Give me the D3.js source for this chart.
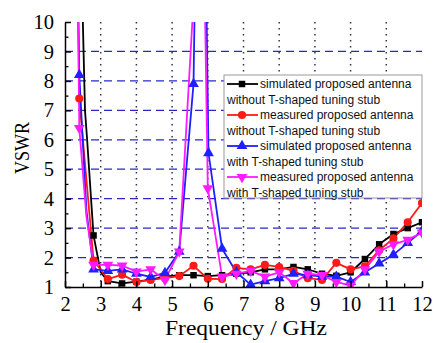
<!DOCTYPE html>
<html>
<head>
<meta charset="utf-8">
<script src="https://cdn.jsdelivr.net/npm/d3@7/dist/d3.min.js"></script>
<style>
  body { margin: 0; background: #fff; }
  #chart text { font-family: "Liberation Serif"; }
  #chart .legend text { font-family: "Liberation Sans"; }
</style>
</head>
<body>
<div id="chart"></div>
<script>
// Datos (frecuencia en GHz, VSWR)
const freqSimNo = [2.45, 2.5, 2.56, 2.62, 2.76, 2.8, 3.0, 3.2, 3.6, 4.0, 4.4, 4.8, 5.2, 5.6, 6.0, 6.4, 6.8, 7.2, 7.6, 8.0, 8.4, 8.8, 9.2, 9.6, 10.0, 10.4, 10.8, 11.2, 11.6, 12.0];
const vswrSimNo = [14, 10, 7, 6, 3.45, 2.75, 1.5, 1.2, 1.12, 1.18, 1.25, 1.35, 1.4, 1.4, 1.37, 1.4, 1.45, 1.5, 1.6, 1.6, 1.68, 1.6, 1.45, 1.38, 1.5, 1.95, 2.45, 2.8, 3.0, 3.2];

const freqMeasNo = [2.35, 2.4, 2.8, 3.2, 3.6, 4.0, 4.4, 4.8, 5.2, 5.6, 6.0, 6.4, 6.8, 7.2, 7.6, 8.0, 8.4, 8.8, 9.2, 9.6, 10.0, 10.4, 10.8, 11.2, 11.6, 12.0];
const vswrMeasNo = [12, 7.4, 1.9, 1.27, 1.42, 1.17, 1.24, 1.3, 1.37, 1.72, 1.28, 1.27, 1.65, 1.6, 1.75, 1.68, 1.55, 1.3, 1.24, 1.82, 1.6, 1.7, 2.25, 2.65, 3.2, 3.85];

const freqSimT = [2.35, 2.4, 2.6, 2.8, 3.2, 3.6, 4.0, 4.4, 4.8, 5.2, 5.6, 5.7, 5.9, 6.02, 6.4, 6.8, 7.2, 7.6, 8.0, 8.4, 8.8, 9.2, 9.6, 10.0, 10.4, 10.8, 11.2, 11.6, 12.0];
const vswrSimT = [12, 8.2, 3.6, 1.6, 1.55, 1.6, 1.45, 1.34, 1.48, 2.2, 7.9, 16, 16, 5.55, 2.3, 1.5, 1.08, 1.2, 1.3, 1.45, 1.4, 1.35, 1.35, 1.17, 1.5, 1.8, 2.1, 2.5, 2.9];

const freqMeasT = [2.35, 2.4, 2.6, 2.8, 3.2, 3.6, 4.0, 4.4, 4.8, 5.2, 5.6, 5.7, 5.85, 6.0, 6.4, 6.8, 7.2, 7.6, 8.0, 8.4, 8.8, 9.2, 9.6, 10.0, 10.4, 10.8, 11.2, 11.6, 12.0];
const vswrMeasT = [12, 6.4, 3.4, 1.75, 1.75, 1.73, 1.52, 1.6, 1.24, 2.2, 10.7, 16, 16, 4.35, 1.35, 1.45, 1.55, 1.35, 1.5, 1.13, 1.45, 1.4, 1.17, 1.05, 1.6, 2.2, 2.45, 2.6, 2.85];

// Frecuencias donde se dibujan los marcadores
const markerFreqs = [2.4, 2.8, 3.2, 3.6, 4.0, 4.4, 4.8, 5.2, 5.6, 6.0, 6.4, 6.8, 7.2, 7.6, 8.0, 8.4, 8.8, 9.2, 9.6, 10.0, 10.4, 10.8, 11.2, 11.6, 12.0];

const xTicks = [2, 3, 4, 5, 6, 7, 8, 9, 10, 11, 12];
const yTicks = [1, 2, 3, 4, 5, 6, 7, 8, 9, 10];

const seriesNames = ["simulated proposed antenna", "measured proposed antenna", "simulated proposed antenna", "measured proposed antenna"];
const seriesSubs = ["without T-shaped tuning stub", "without T-shaped tuning stub", "with T-shaped tuning stub", "with T-shaped tuning stub"];

function createChart() {
    const width = 438, height = 343;
    const marginLeft = 65, marginRight = 16, marginTop = 22, marginBottom = 56;

    const series = [
        { freq: freqSimNo, vswr: vswrSimNo, color: "#000000", symbol: d3.symbolSquare, size: 42, rot: 0 },
        { freq: freqMeasNo, vswr: vswrMeasNo, color: "#ff1a1a", symbol: d3.symbolCircle, size: 52, rot: 0 },
        { freq: freqSimT, vswr: vswrSimT, color: "#1f1fff", symbol: d3.symbolTriangle, size: 50, rot: 0 },
        { freq: freqMeasT, vswr: vswrMeasT, color: "#ff1aff", symbol: d3.symbolTriangle, size: 50, rot: 180 }
    ];

    const x = d3.scaleLinear().domain([2, 12]).range([marginLeft, width - marginRight]);
    const y = d3.scaleLinear().domain([1, 10]).range([height - marginBottom, marginTop]);

    const svg = d3.select("#chart").append("svg")
        .attr("width", width)
        .attr("height", height)
        .attr("viewBox", [0, 0, width, height]);

    svg.append("defs").append("clipPath")
        .attr("id", "clip")
        .append("rect")
        .attr("x", marginLeft)
        .attr("y", marginTop)
        .attr("width", width - marginLeft - marginRight)
        .attr("height", height - marginTop - marginBottom);

    // Rejilla horizontal (discontinua azul)
    svg.append("g")
        .selectAll("line")
        .data(yTicks.filter(d => d > 1 && d < 10))
        .join("line")
        .attr("x1", marginLeft)
        .attr("x2", width - marginRight)
        .attr("y1", d => y(d))
        .attr("y2", d => y(d))
        .attr("stroke", "#2828c8")
        .attr("stroke-width", 1.3)
        .attr("stroke-dasharray", "8,5");

    // Rejilla vertical (punteada)
    svg.append("g")
        .selectAll("line")
        .data(xTicks.filter(d => d > 2 && d < 12))
        .join("line")
        .attr("x1", d => x(d))
        .attr("x2", d => x(d))
        .attr("y1", marginTop)
        .attr("y2", height - marginBottom)
        .attr("stroke", "#333355")
        .attr("stroke-width", 1.5)
        .attr("stroke-dasharray", "1.5,4.5");

    // Curvas y marcadores
    const line = d3.line().x(d => x(d[0])).y(d => y(d[1]));
    const plot = svg.append("g").attr("clip-path", "url(#clip)");

    series.forEach(s => {
        const pts = s.freq.map((f, i) => [f, s.vswr[i]]);
        plot.append("path")
            .datum(pts)
            .attr("fill", "none")
            .attr("stroke", s.color)
            .attr("stroke-width", 1.8)
            .attr("stroke-linejoin", "round")
            .attr("d", line);
    });

    series.forEach(s => {
        const pts = s.freq.map((f, i) => [f, s.vswr[i]])
            .filter(p => markerFreqs.some(m => Math.abs(m - p[0]) < 0.03));
        plot.append("g")
            .selectAll("path")
            .data(pts)
            .join("path")
            .attr("d", d3.symbol().type(s.symbol).size(s.size))
            .attr("transform", d => `translate(${x(d[0])},${y(d[1])}) rotate(${s.rot})`)
            .attr("fill", s.color);
    });

    // Ejes con marcas hacia dentro
    const minorX = d3.range(2.5, 12, 1);
    const minorY = d3.range(1.5, 10, 1);

    svg.append("g")
        .attr("transform", `translate(0,${height - marginBottom})`)
        .call(d3.axisBottom(x).tickValues(minorX).tickSize(-3.5).tickFormat(""))
        .call(g => g.select(".domain").remove())
        .call(g => g.selectAll("line").attr("stroke-width", 1.3));

    svg.append("g")
        .attr("transform", `translate(0,${height - marginBottom})`)
        .call(d3.axisBottom(x).tickValues(xTicks).tickSize(-6).tickSizeOuter(0).tickPadding(9).tickFormat(d3.format("d")))
        .attr("font-family", "Liberation Serif")
        .attr("font-size", 20.5)
        .call(g => g.select(".domain").attr("stroke-width", 1.5))
        .call(g => g.selectAll("line").attr("stroke-width", 1.5))
        .call(g => g.selectAll("text").attr("fill", "#000"));

    svg.append("g")
        .attr("transform", `translate(${marginLeft},0)`)
        .call(d3.axisLeft(y).tickValues(minorY).tickSize(-3.5).tickFormat(""))
        .call(g => g.select(".domain").remove())
        .call(g => g.selectAll("line").attr("stroke-width", 1.3));

    svg.append("g")
        .attr("transform", `translate(${marginLeft},0)`)
        .call(d3.axisLeft(y).tickValues(yTicks).tickSize(-6).tickSizeOuter(0).tickPadding(11).tickFormat(d3.format("d")))
        .attr("font-family", "Liberation Serif")
        .attr("font-size", 20.5)
        .call(g => g.select(".domain").attr("stroke-width", 1.5))
        .call(g => g.selectAll("line").attr("stroke-width", 1.5))
        .call(g => g.selectAll("text").attr("fill", "#000"));

    // Títulos de los ejes
    svg.append("text")
        .attr("x", 246)
        .attr("y", 335)
        .attr("text-anchor", "middle")
        .attr("font-size", 22)
        .attr("textLength", 162)
        .attr("lengthAdjust", "spacingAndGlyphs")
        .text("Frequency / GHz");

    svg.append("text")
        .attr("transform", "translate(29,148) rotate(-90)")
        .attr("text-anchor", "middle")
        .attr("font-size", 22)
        .attr("textLength", 52)
        .attr("lengthAdjust", "spacingAndGlyphs")
        .text("VSWR");

    // Leyenda
    const lg = svg.append("g").attr("class", "legend").attr("font-size", 12);
    lg.append("rect")
        .attr("x", 224).attr("y", 75)
        .attr("width", 198).attr("height", 123)
        .attr("fill", "#fff")
        .attr("stroke", "#9a9a9a")
        .attr("stroke-width", 1);

    series.forEach((s, i) => {
        const cy = 84 + i * 31;
        lg.append("line")
            .attr("x1", 227).attr("x2", 258)
            .attr("y1", cy).attr("y2", cy)
            .attr("stroke", s.color)
            .attr("stroke-width", 1.8);
        lg.append("path")
            .attr("d", d3.symbol().type(s.symbol).size(s.size))
            .attr("transform", `translate(242,${cy}) rotate(${s.rot})`)
            .attr("fill", s.color);
        lg.append("text")
            .attr("x", 260).attr("y", cy)
            .attr("dy", "0.35em")
            .attr("fill", "#111")
            .text(seriesNames[i]);
        lg.append("text")
            .attr("x", 227).attr("y", cy + 15.5)
            .attr("dy", "0.35em")
            .attr("fill", "#111")
            .text(seriesSubs[i]);
    });
}

document.addEventListener("DOMContentLoaded", createChart);
</script>
</body>
</html>
